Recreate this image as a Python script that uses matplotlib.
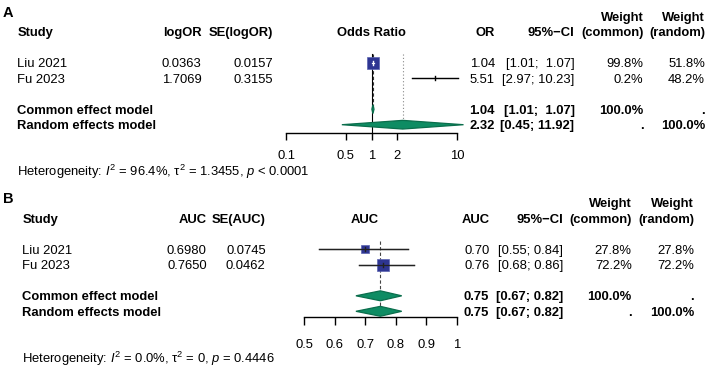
import matplotlib
matplotlib.use("Agg")
import matplotlib.pyplot as plt
from matplotlib.patches import Polygon
from matplotlib.ticker import NullLocator, FixedLocator, FixedFormatter
import numpy as np

plt.rcParams['font.family'] = ['Liberation Sans', 'DejaVu Sans']
plt.rcParams['mathtext.fontset'] = 'custom'
plt.rcParams['mathtext.rm'] = 'Liberation Sans'
plt.rcParams['mathtext.it'] = 'Liberation Sans:italic'
plt.rcParams['mathtext.bf'] = 'Liberation Sans:bold'

# ---------------- data ----------------
studies = ["Liu 2021", "Fu 2023"]

# Panel A: odds ratio
A_logor = [0.0363, 1.7069]
A_se = [0.0157, 0.3155]
A_or = [1.04, 5.51]
A_lo = [1.01, 2.97]
A_hi = [1.07, 10.23]
A_w_common = [99.8, 0.2]
A_w_random = [51.8, 48.2]
A_common = [1.04, 1.01, 1.07]
A_random = [2.32, 0.45, 11.92]
A_ticks = [0.1, 0.5, 1, 2, 10]
A_ticklabels = ["0.1", "0.5", "1", "2", "10"]
A_het = r"Heterogeneity: $\mathit{I}^{2}$ = 96.4%, τ$^{2}$ = 1.3455, $\mathit{p}$ < 0.0001"

# Panel B: AUC
B_auc = [0.6980, 0.7650]
B_se = [0.0745, 0.0462]
B_est = [0.70, 0.76]
B_lo = [0.55, 0.68]
B_hi = [0.84, 0.86]
B_w_common = [27.8, 72.2]
B_w_random = [27.8, 72.2]
B_common = [0.75, 0.67, 0.82]
B_random = [0.75, 0.67, 0.82]
B_ticks = [0.5, 0.6, 0.7, 0.8, 0.9, 1.0]
B_ticklabels = ["0.5", "0.6", "0.7", "0.8", "0.9", "1"]
B_het = r"Heterogeneity: $\mathit{I}^{2}$ = 0.0%, τ$^{2}$ = 0, $\mathit{p}$ = 0.4446"

model_names = ["Common effect model", "Random effects model"]

# ---------------- layout ----------------
W, H = 708, 371
FS = 9.4
SQ_COL = "#2E3592"
SQ_EDGE = "#5B63B0"
DIA_COL = "#0E8C63"
DIA_EDGE = "#0A6E4C"
ROW = 15.5

fig = plt.figure(figsize=(W / 100, H / 100), dpi=100)
tx = fig.add_axes([0, 0, 1, 1])
tx.set_xlim(0, W)
tx.set_ylim(H, 0)
tx.axis('off')


def T(x, y, s, ha='left', bold=False, size=FS):
    tx.text(x, y + 4.6, s, ha=ha, va='baseline', fontsize=size,
            fontweight='bold' if bold else 'normal', color='black')


def panel(y0, label, lab_x, study_x, col_x, se_x, eff_x, ci_x, wc_x, wr_x,
          head_eff, head_se, head_plot, plot_center,
          vals, ses, est, lo, hi, wc, wr, common, random, het,
          ax_left, ax_right, spine_y, ax_top, log, ticks, ticklabels,
          inside_col, line_col, vlines, dia_h, tick_len, pad):
    yr = lambda r: y0 + ROW * r
    hw = max(len(f"{v:.2f}") for v in list(hi) + [common[2], random[2]])

    def fmt_ci(a, b):
        return f"[{a:.2f}; {b:>{hw}.2f}]"

    tx.text(lab_x, yr(-1.3) + 5, label, ha='left', va='baseline', fontsize=10.5, fontweight='bold')
    T(study_x, yr(0), "Study", bold=True)
    T(col_x, yr(0), head_eff, ha='right', bold=True)
    T(se_x, yr(0), head_se, ha='right', bold=True)
    T(plot_center, yr(0), head_plot, ha='center', bold=True)
    T(eff_x, yr(0), head_eff if head_eff == "AUC" else "OR", ha='right', bold=True)
    T(ci_x, yr(0), "95%\u2212CI", ha='right', bold=True)
    T(wc_x, yr(-1), "Weight", ha='right', bold=True)
    T(wr_x, yr(-1), "Weight", ha='right', bold=True)
    T(wc_x, yr(0), "(common)", ha='right', bold=True)
    T(wr_x, yr(0), "(random)", ha='right', bold=True)
    rows = [2, 3]
    for i, r in enumerate(rows):
        T(study_x, yr(r), studies[i])
        T(col_x, yr(r), f"{vals[i]:.4f}", ha='right')
        T(se_x, yr(r), f"{ses[i]:.4f}", ha='right')
        T(eff_x, yr(r), f"{est[i]:.2f}", ha='right')
        T(ci_x, yr(r), fmt_ci(lo[i], hi[i]), ha='right')
        T(wc_x, yr(r), f"{wc[i]:.1f}%", ha='right')
        T(wr_x, yr(r), f"{wr[i]:.1f}%", ha='right')
    for j, (r, m) in enumerate(zip([5, 6], [common, random])):
        T(study_x, yr(r), model_names[j], bold=True)
        T(eff_x, yr(r), f"{m[0]:.2f}", ha='right', bold=True)
        T(ci_x, yr(r), fmt_ci(m[1], m[2]), ha='right', bold=True)
        T(wc_x, yr(r), "100.0%" if j == 0 else ".", ha='right', bold=True)
        T(wr_x, yr(r), "." if j == 0 else "100.0%", ha='right', bold=True)
    T(study_x, yr(9) + 0.5, het)

    ax = fig.add_axes([ax_left / W, (H - spine_y) / H, (ax_right - ax_left) / W, (spine_y - ax_top) / H])
    ax.patch.set_alpha(0)
    if log:
        ax.set_xscale('log')
    ax.set_xlim(ticks[0], ticks[-1])
    ybot = (spine_y - y0) / ROW
    ytop = (ax_top - y0) / ROW
    ax.set_ylim(ybot, ytop)
    for s in ['top', 'left', 'right']:
        ax.spines[s].set_visible(False)
    ax.spines['bottom'].set_linewidth(1.0)
    ax.set_yticks([])
    ax.xaxis.set_major_locator(FixedLocator(ticks))
    ax.xaxis.set_major_formatter(FixedFormatter(ticklabels))
    ax.xaxis.set_minor_locator(NullLocator())
    ax.tick_params(axis='x', direction='out', length=tick_len, width=1.0, pad=pad, labelsize=FS)

    for (xv, ystart, yend, ls, col) in vlines:
        ax.plot([xv, xv], [ystart, yend], ls=ls, color=col, lw=0.8, clip_on=False, zorder=1)

    maxw = max(wc)
    for i, r in enumerate(rows):
        ax.plot([lo[i], hi[i]], [r, r], color=line_col, lw=1.0, clip_on=False, zorder=2)
        side = 12.6 * np.sqrt(wc[i] / maxw) * 0.72
        ax.plot([est[i]], [r], marker='s', markersize=side, markerfacecolor=SQ_COL,
                markeredgecolor=SQ_EDGE, markeredgewidth=0.5, ls='none', zorder=3, clip_on=False)
        ins = inside_col[i]
        ax.plot([lo[i], hi[i]], [r, r], color=ins, lw=0.9, zorder=4, clip_on=False)
        ax.plot([est[i], est[i]], [r - 0.13, r + 0.13], color=ins, lw=1.0, zorder=4, clip_on=False)

    for r, m in zip([5, 6], [common, random]):
        poly = Polygon([(m[1], r), (m[0], r - dia_h), (m[2], r), (m[0], r + dia_h)], closed=True,
                       facecolor=DIA_COL, edgecolor=DIA_EDGE, lw=0.9, clip_on=False, zorder=3)
        ax.add_patch(poly)
    return ax


# Panel A
panel(31.7, "A", 3, 17.3, 201.7, 272.7, 495, 574.5, 643.3, 705,
      "logOR", "SE(logOR)", "Odds Ratio", 371.5,
      A_logor, A_se, A_or, A_lo, A_hi, A_w_common, A_w_random, A_common, A_random, A_het,
      286, 457, 133, 40, True, A_ticks, A_ticklabels,
      ['white', 'black'], '#808080',
      [(1, 1.45, 6.535, '-', 'black'),
       (A_common[0], 1.45, 5.0, (0, (3, 2)), '#333333'),
       (A_random[0], 1.45, 5.9, (0, (1, 2)), '#888888')],
      0.28, 5, 7.5)

# Panel B
panel(218.3, "B", 3, 22.3, 206.7, 265.7, 489.3, 563.3, 631.7, 694,
      "AUC", "SE(AUC)", "AUC", 365,
      B_auc, B_se, B_est, B_lo, B_hi, B_w_common, B_w_random, B_common, B_random, B_het,
      304, 456.7, 317.3, 228, False, B_ticks, B_ticklabels,
      ['#222222', '#222222'], '#555555',
      [(B_common[0], 1.45, 6.0, (0, (3, 2)), '#444444')],
      0.32, 5.5, 10)

fig.savefig("out.png", dpi=100)
